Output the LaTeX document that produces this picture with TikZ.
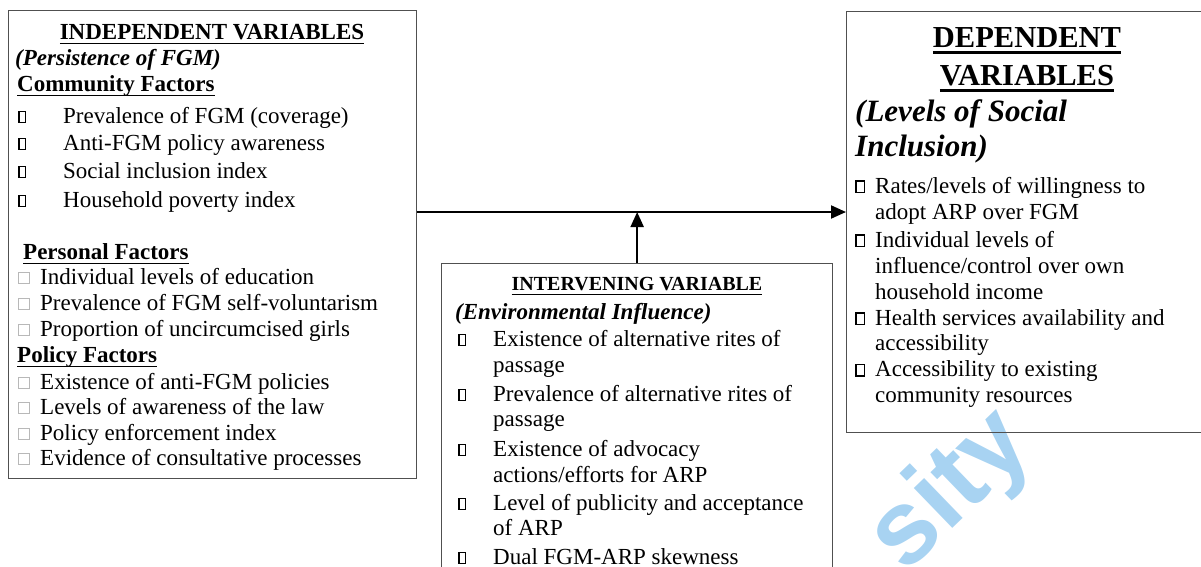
\documentclass[tikz,border=0pt]{standalone}
\usepackage{fontspec}
\setmainfont{Liberation Serif}
\newfontfamily\wmfont{Liberation Sans}
\usetikzlibrary{arrows.meta}
\definecolor{wmblue}{RGB}{168,211,242}
\definecolor{boxgray}{RGB}{80,80,80}
\newsavebox\ulbox
\newcommand\myul[1]{\sbox\ulbox{#1}\rlap{\rule[-5.2pt]{\wd\ulbox}{1.7pt}}\usebox\ulbox}
\newcommand\myulthick[1]{\sbox\ulbox{#1}\rlap{\rule[-7pt]{\wd\ulbox}{2.6pt}}\usebox\ulbox}
\newcommand\bulA{\raisebox{1.3pt}{\setlength\fboxsep{0pt}\setlength\fboxrule{1.3pt}\fbox{\rule{0pt}{9.5pt}\hspace{5.5pt}}}}
\newcommand\bulR{\raisebox{1.3pt}{\setlength\fboxsep{0pt}\setlength\fboxrule{1.3pt}\fbox{\rule{0pt}{10pt}\hspace{7pt}}}}
\newcommand\bulB{\raisebox{0.9pt}{\color{black!28}\setlength\fboxsep{0pt}\setlength\fboxrule{0.9pt}\fbox{\rule{0pt}{10.5pt}\hspace{9.5pt}}}}
\begin{document}
\begin{tikzpicture}[x=1pt,y=-1pt,
  box/.style={draw=boxgray,line width=1.3pt,anchor=north west,inner sep=0pt},
  txt/.style={anchor=base west,inner sep=0pt,font=\fontsize{23}{27}\selectfont},
  hd/.style={anchor=base,inner sep=0pt,font=\fontsize{23}{27}\selectfont\bfseries},
  bigtxt/.style={anchor=base west,inner sep=0pt,font=\fontsize{31}{34}\selectfont\bfseries\itshape},
  bighd/.style={anchor=base,inner sep=0pt,font=\fontsize{30.5}{34}\selectfont\bfseries},
  conn/.style={line width=2pt,-{Triangle[length=15pt,width=13pt]}}]
\useasboundingbox (0,0) rectangle (1201,566);
% watermark fragment
\node[rotate=44,text=wmblue,inner sep=0pt,font=\wmfont\fontsize{105}{105}\selectfont\bfseries] (wm) at (952,492) {sity};
% boxes
\node[box,minimum width=408pt,minimum height=468pt] (indep) at (8,10) {};
\node[box,minimum width=391pt,minimum height=360pt] (inter) at (441,263) {};
\node[box,minimum width=362pt,minimum height=421pt] (dep) at (846,11) {};
% connectors
\coordinate (hline) at (0,212);
\draw[conn] (indep.east |- hline) -- (dep.west |- hline);
\draw[conn] (inter.north) -- (inter.north |- hline);
% left box text
\node[hd] (i1) at (212,39) {\myul{INDEPENDENT VARIABLES}};
\node[txt,font=\fontsize{23}{27}\selectfont\bfseries\itshape] (i2) at (15,65) {(Persistence of FGM)};
\node[txt,font=\fontsize{23}{27}\selectfont\bfseries] (i3) at (17,91) {\myul{Community Factors}};
\node[txt] (i4) at (18,123) {\makebox[45pt][l]{\bulA}Prevalence of FGM (coverage)};
\node[txt] (i5) at (18,150) {\makebox[45pt][l]{\bulA}Anti-FGM policy awareness};
\node[txt] (i6) at (18,178) {\makebox[45pt][l]{\bulA}Social inclusion index};
\node[txt] (i7) at (18,207) {\makebox[45pt][l]{\bulA}Household poverty index};
\node[txt,font=\fontsize{23}{27}\selectfont\bfseries] (i8) at (23,259) {\myul{Personal Factors}};
\node[txt] (i9) at (18,284) {\makebox[22pt][l]{\bulB}Individual levels of education};
\node[txt] (i10) at (18,310) {\makebox[22pt][l]{\bulB}Prevalence of FGM self-voluntarism};
\node[txt] (i11) at (18,336) {\makebox[22pt][l]{\bulB}Proportion of uncircumcised girls};
\node[txt,font=\fontsize{23}{27}\selectfont\bfseries] (i12) at (17,362) {\myul{Policy Factors}};
\node[txt] (i13) at (18,389) {\makebox[22pt][l]{\bulB}Existence of anti-FGM policies};
\node[txt] (i14) at (18,414) {\makebox[22pt][l]{\bulB}Levels of awareness of the law};
\node[txt] (i15) at (18,440) {\makebox[22pt][l]{\bulB}Policy enforcement index};
\node[txt] (i16) at (18,465) {\makebox[22pt][l]{\bulB}Evidence of consultative processes};
% middle box text
\node[hd,font=\fontsize{20}{24}\selectfont\bfseries] (m1) at (637,290) {\myul{INTERVENING VARIABLE}};
\node[txt,font=\fontsize{23}{27}\selectfont\bfseries\itshape] (m2) at (455,319) {(Environmental Influence)};
\node[txt] (m3) at (458,346) {\makebox[35pt][l]{\bulA}Existence of alternative rites of};
\node[txt] (m4) at (493,372) {passage};
\node[txt] (m5) at (458,401) {\makebox[35pt][l]{\bulA}Prevalence of alternative rites of};
\node[txt] (m6) at (493,426) {passage};
\node[txt] (m7) at (458,456) {\makebox[35pt][l]{\bulA}Existence of advocacy};
\node[txt] (m8) at (493,482) {actions/efforts for ARP};
\node[txt] (m9) at (458,510) {\makebox[35pt][l]{\bulA}Level of publicity and acceptance};
\node[txt] (m10) at (493,535) {of ARP};
\node[txt] (m11) at (458,564) {\makebox[35pt][l]{\bulA}Dual FGM-ARP skewness};
% right box text
\node[bighd] (d1) at (1027,47) {\myulthick{DEPENDENT}};
\node[bighd] (d2) at (1027,85) {\myulthick{VARIABLES}};
\node[bigtxt] (d3) at (855,121) {(Levels of Social};
\node[bigtxt] (d4) at (855,156) {Inclusion)};
\node[txt] (d5) at (855,193) {\makebox[20pt][l]{\bulR}Rates/levels of willingness to};
\node[txt] (d6) at (875,219) {adopt ARP over FGM};
\node[txt] (d7) at (855,247) {\makebox[20pt][l]{\bulR}Individual levels of};
\node[txt] (d8) at (875,273) {influence/control over own};
\node[txt] (d9) at (875,299) {household income};
\node[txt] (d10) at (855,325) {\makebox[20pt][l]{\bulR}Health services availability and};
\node[txt] (d11) at (875,350.5) {accessibility};
\node[txt] (d12) at (855,376.5) {\makebox[20pt][l]{\bulR}Accessibility to existing};
\node[txt] (d13) at (875,402) {community resources};
\end{tikzpicture}
\end{document}
